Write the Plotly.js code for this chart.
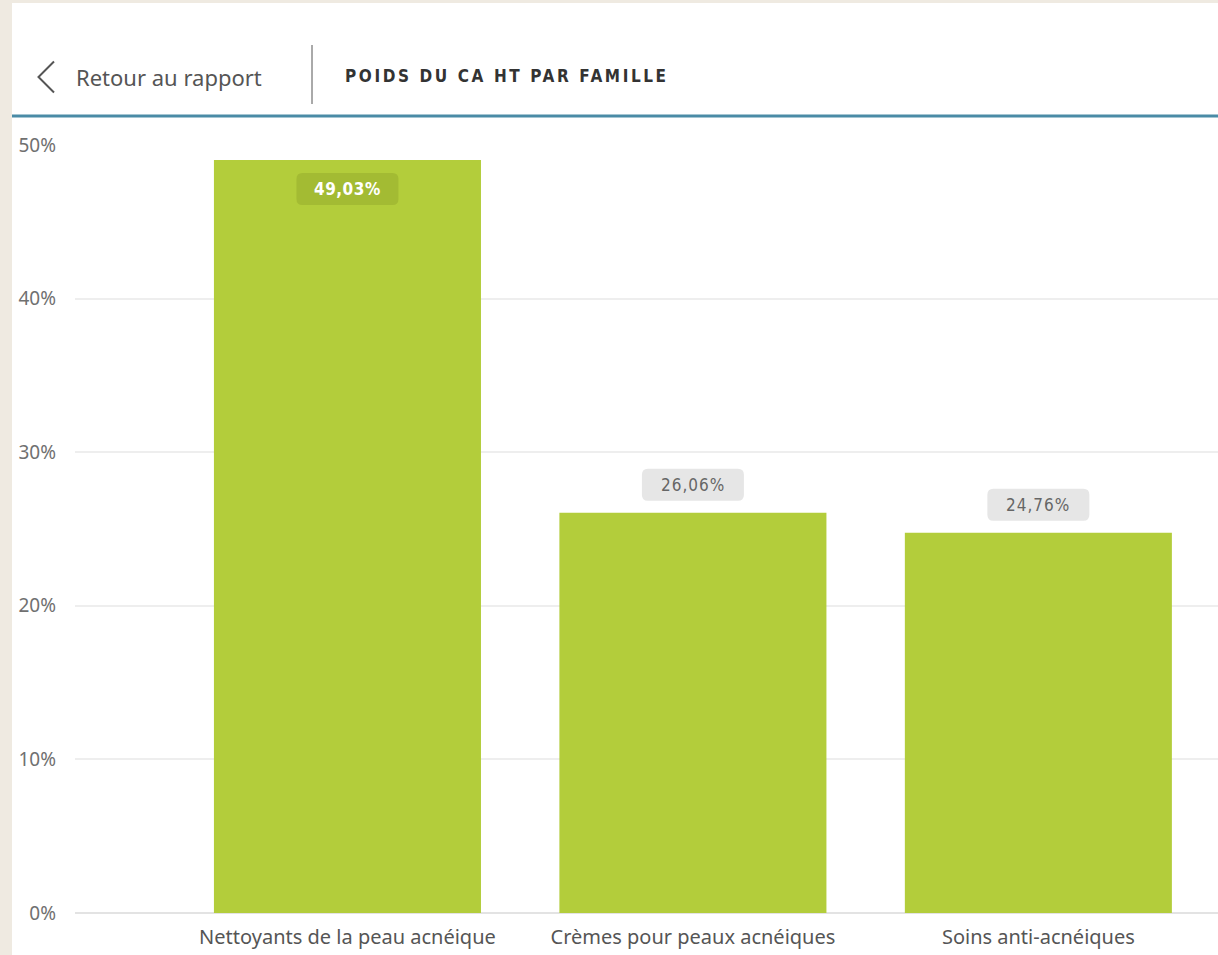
<!DOCTYPE html>
<html>
<head>
<meta charset="utf-8">
<script src="https://cdn.plot.ly/plotly-3.0.1.min.js"></script>
<style>
  html, body { margin:0; padding:0; background:#efeae1; width:1218px; height:955px; overflow:hidden; }
  #chart { position:absolute; left:12px; top:3px; width:1206px; height:952px; }
</style>
</head>
<body>
<div id="chart"></div>
<script>
// ---- data ----
const categories = ["Nettoyants de la peau acnéique", "Crèmes pour peaux acnéiques", "Soins anti-acnéiques"];
const shareValues = [49.03, 26.06, 24.76];
const valueLabels = ["49,03%", "26,06%", "24,76%"];
const yTickValues = [0, 10, 20, 30, 40, 50];
const yTickLabels = ["0%", "10%", "20%", "30%", "40%", "50%"];
const headerBack = "Retour au rapport";
const headerTitle = "POIDS DU CA HT PAR FAMILLE";

// ---- layout geometry (pixels within the chart div) ----
const W = 1206, H = 952;
const M = {l: 63, r: 0, t: 142, b: 42};
const PW = W - M.l - M.r, PH = H - M.t - M.b;
const px = x => (x - 12 - M.l) / PW;          // page px -> paper x
const py = y => (H - M.b - (y - 3)) / PH;     // page py -> paper y

const barColor = "#b3cd3b";
const insideBox = "#a3bb33";
const outsideBox = "#e6e6e6";

const shapes = [];
const annotations = [];

// header
shapes.push({type:"line", xref:"paper", yref:"paper", x0:px(12), x1:px(1218), y0:py(116), y1:py(116),
  line:{color:"#4a8ba6", width:3}});
shapes.push({type:"line", xref:"paper", yref:"paper", x0:px(312), x1:px(312), y0:py(45), y1:py(104),
  line:{color:"#555555", width:1}});
shapes.push({type:"path", xref:"paper", yref:"paper", xsizemode:"pixel", ysizemode:"pixel",
  xanchor:px(38), yanchor:py(77), path:"M 16 15.5 L 0.5 0 L 16 -15.5",
  line:{color:"#555555", width:2}});
annotations.push({xref:"paper", yref:"paper", x:px(74), y:py(77), xanchor:"left", yanchor:"middle",
  text:headerBack, showarrow:false, font:{family:"Noto Sans", size:22, color:"#555555"}});
annotations.push({xref:"paper", yref:"paper", x:px(343), y:py(76), xanchor:"left", yanchor:"middle",
  text:'<span style="letter-spacing:2.6px"><b>'+headerTitle+'</b></span>', showarrow:false,
  font:{family:"DejaVu Sans Condensed", size:17, color:"#333333"}});

// data labels
shareValues.forEach((v, i) => {
  const inside = v === Math.max(...shareValues);
  const r = 6, w = 51;
  const y0 = inside ? -45 : 12, y1 = inside ? -13 : 44;
  const path = `M ${-w+r} ${y0} L ${w-r} ${y0} Q ${w} ${y0} ${w} ${y0+r} L ${w} ${y1-r} Q ${w} ${y1} ${w-r} ${y1} ` +
               `L ${-w+r} ${y1} Q ${-w} ${y1} ${-w} ${y1-r} L ${-w} ${y0+r} Q ${-w} ${y0} ${-w+r} ${y0} Z`;
  shapes.push({type:"path", xref:"x", yref:"y", xsizemode:"pixel", ysizemode:"pixel",
    xanchor:i, yanchor:v, path:path, fillcolor: inside ? insideBox : outsideBox, line:{width:0}, layer:"above"});
  annotations.push({xref:"x", yref:"y", x:categories[i], y:v, yshift: inside ? -29 : 28,
    xanchor:"center", yanchor:"middle", showarrow:false,
    text: inside ? '<span style="letter-spacing:0.5px"><b>'+valueLabels[i]+'</b></span>'
                 : '<span style="letter-spacing:1px">'+valueLabels[i]+'</span>',
    font:{family:"DejaVu Sans Condensed", size:17, color: inside ? "#ffffff" : "#666666"}});
});

const data = [{
  type:"bar", x:categories, y:shareValues, marker:{color:barColor}, width:0.773,
  hoverinfo:"none"
}];

const layout = {
  width:W, height:H, margin:M,
  paper_bgcolor:"#ffffff", plot_bgcolor:"#ffffff",
  showlegend:false,
  xaxis:{type:"category", range:[-0.7887, 2.52], showgrid:false, zeroline:false, showline:false,
    ticks:"", ticklabelstandoff:10, tickfont:{family:"Noto Sans", size:20, color:"#555555"}, fixedrange:true},
  yaxis:{range:[0, 50], tickvals:yTickValues, ticktext:yTickLabels, showgrid:true, gridcolor:"#eeeeee", gridwidth:2,
    zeroline:true, zerolinecolor:"#e3e3e3", zerolinewidth:2, showline:false, ticks:"",
    ticklabelstandoff:18, tickfont:{family:"Noto Sans", size:19, color:"#707070"}, fixedrange:true},
  shapes:shapes, annotations:annotations
};

Plotly.newPlot("chart", data, layout, {displayModeBar:false, staticPlot:true});
</script>
</body>
</html>
